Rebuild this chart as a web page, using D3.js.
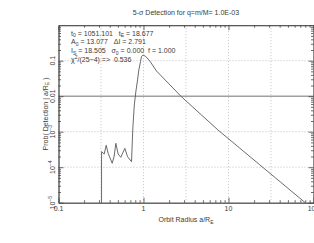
<!DOCTYPE html>
<html>
<head>
<meta charset="utf-8">
<script src="https://cdn.jsdelivr.net/npm/d3@7"></script>
<style>
  body { margin: 0; background: #fff; }
  svg { display: block; }
  text { font-family: "Liberation Sans", Arial, sans-serif; fill: #3a3a3a; white-space: pre; }
</style>
</head>
<body>
<div id="chart"></div>
<script>
const W = 314, H = 243;
const margin = {top: 25.2, right: 0.5, bottom: 40.3, left: 58.5};

// detection probability vs orbit radius
const radius = [0.321, 0.321, 0.345, 0.364, 0.384, 0.428, 0.452, 0.473, 0.503, 0.541, 0.603, 0.649, 0.723,
  0.749, 0.780, 0.812, 0.851, 0.881, 0.922, 0.947, 0.989, 1.064, 1.186, 1.421, 2.79, 7.51, 23.2, 80];
const prob = [1e-5, 2.73e-4, 2.35e-4, 4.14e-4, 2.46e-4, 1.29e-4, 2.07e-4, 4.71e-4, 2.35e-4, 1.90e-4, 3.41e-4, 1.98e-4, 1.43e-4,
  1.27e-3, 5.65e-3, 0.0131, 0.0286, 0.0547, 0.0937, 0.130, 0.145, 0.131, 0.098, 0.0513, 9.68e-3, 1.12e-3, 1.18e-4, 1.0e-5];

const threshold = 0.01;
const xTicks = [0.1, 1, 10, 100];
const yTicks = [1e-5, 1e-4, 1e-3, 0.01, 0.1];
const xGrid = [0.316, 1, 3.16, 10, 31.6];
const yGrid = [1e-4, 1e-3, 0.1];

const title = "5-σ Detection for q=m/M= 1.0E-03";
const xLabel = [["Orbit Radius a/R", ""], ["E", "sub"]];
const yLabel = [["Prob( Detection | a/R", ""], ["E", "sub"], [" )", ""]];
// fit parameters, [text, sub|sup]
const params = [
  [["t", ""], ["0", "sub"], [" = 1051.101   t", ""], ["E", "sub"], [" = 18.677", ""]],
  [["A", ""], ["0", "sub"], [" = 13.077   ΔI = 2.791", ""]],
  [["I", ""], ["S", "sub"], [" = 18.505   σ", ""], ["0", "sub"], [" = 0.000  f = 1.000", ""]],
  [["χ", ""], ["2", "sup"], ["/(25−4) =>  0.536", ""]]
];

const FS = 7;
const svg = d3.select("#chart").append("svg").attr("width", W).attr("height", H);

const x = d3.scaleLog().domain([0.1, 100]).range([margin.left, W - margin.right]);
const y = d3.scaleLog().domain([1e-5, 1]).range([H - margin.bottom, margin.top]);

// text runs with sub/superscripts
function addRuns(sel, runs, fs) {
  sel.attr("font-size", fs);
  let shift = 0;
  runs.forEach(([t, k]) => {
    const target = k === "sub" ? fs * 0.22 : k === "sup" ? -fs * 0.35 : 0;
    sel.append("tspan").attr("dy", target - shift).attr("font-size", k ? fs * 0.72 : fs).text(t);
    shift = target;
  });
}

// grid
svg.append("g").selectAll("line").data(xGrid).join("line")
  .attr("x1", d => x(d)).attr("x2", d => x(d))
  .attr("y1", margin.top).attr("y2", H - margin.bottom)
  .attr("stroke", "#999").attr("stroke-width", 0.6).attr("stroke-dasharray", "1,2");
svg.append("g").selectAll("line").data(yGrid).join("line")
  .attr("x1", margin.left).attr("x2", W - margin.right)
  .attr("y1", d => y(d)).attr("y2", d => y(d))
  .attr("stroke", "#999").attr("stroke-width", 0.6).attr("stroke-dasharray", "1,2");

// threshold
svg.append("line")
  .attr("x1", margin.left).attr("x2", W - margin.right)
  .attr("y1", y(threshold)).attr("y2", y(threshold))
  .attr("stroke", "#a0a0a0").attr("stroke-width", 1.5);

// curve
const pts = radius.map((r, i) => [r, prob[i]]);
svg.append("path").datum(pts)
  .attr("fill", "none").attr("stroke", "#5a5a5a").attr("stroke-width", 0.9)
  .attr("d", d3.line().x(d => x(d[0])).y(d => y(d[1])));

// axes, ticks pointing inward
const minorX = x.ticks().filter(v => !xTicks.includes(v));
const minorY = y.ticks().filter(v => !yTicks.includes(v) && v !== 1);
function axis(gen, scale, pos, majors, minors) {
  const g1 = svg.append("g").attr("transform", pos)
    .call(gen(scale).tickValues(majors).tickSizeInner(-5).tickSizeOuter(0).tickFormat(""));
  const g2 = svg.append("g").attr("transform", pos)
    .call(gen(scale).tickValues(minors).tickSizeInner(-2.5).tickSizeOuter(0).tickFormat(""));
  [g1, g2].forEach(g => {
    g.selectAll("path,line").attr("stroke", "#444").attr("stroke-width", 0.8);
  });
}
axis(d3.axisBottom, x, `translate(0,${H - margin.bottom})`, xTicks, minorX);
axis(d3.axisTop, x, `translate(0,${margin.top})`, xTicks, minorX);
axis(d3.axisLeft, y, `translate(${margin.left},0)`, yTicks, minorY);
axis(d3.axisRight, y, `translate(${W - margin.right},0)`, yTicks, minorY);

// x tick labels
svg.append("g").selectAll("text").data(xTicks).join("text")
  .attr("x", d => x(d)).attr("y", H - margin.bottom + 8.5)
  .attr("text-anchor", "middle").attr("font-size", FS)
  .text(d => d3.format("~g")(d));

// y tick labels (rotated)
const yl = svg.append("g").selectAll("text").data(yTicks).join("text")
  .attr("transform", d => `translate(54.5,${y(d)}) rotate(-90)`)
  .attr("text-anchor", "middle").attr("font-size", FS);
yl.each(function (d) {
  const t = d3.select(this);
  if (d >= 0.01) t.text(d3.format("~g")(d));
  else addRuns(t, [["10", ""], ["−" + Math.round(-Math.log10(d)), "sup"]], FS);
});

// axis titles
svg.append("text").attr("x", (margin.left + W - margin.right) / 2).attr("y", 222)
  .attr("text-anchor", "middle").call(addRuns, xLabel, FS);
svg.append("text").attr("transform", `translate(47.5,${(margin.top + H - margin.bottom) / 2}) rotate(-90)`)
  .attr("text-anchor", "middle").call(addRuns, yLabel, FS);

// title
svg.append("text").attr("x", 186).attr("y", 15).attr("text-anchor", "middle")
  .attr("font-size", FS).text(title);

// parameters
params.forEach((runs, i) => {
  svg.append("text").attr("x", 71).attr("y", 35.5 + i * 8.8).call(addRuns, runs, FS);
});
</script>
</body>
</html>
